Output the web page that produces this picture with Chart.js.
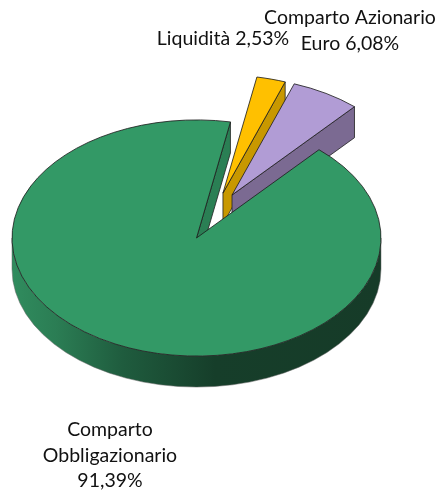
<!DOCTYPE html>
<html>
<head>
<meta charset="utf-8">
<style>
  html, body { margin: 0; padding: 0; background: #fff; }
  canvas { display: block; }
</style>
<script src="https://cdn.jsdelivr.net/npm/chart.js@4/dist/chart.umd.js"></script>
</head>
<body>
<canvas id="myChart" width="439" height="491"></canvas>
<script>
// Chart data
const categories = ['Liquidità', 'Comparto Azionario Euro', 'Comparto Obbligazionario'];
const values = [2.53, 6.08, 91.39];
const topColors = ['#ffc000', '#b19cd5', '#339966'];
const sideColors = ['#c89800', '#7b6a92', '#2a7f54'];

// Exploded slices: distance from the centre and small turn off the bisector
const explodeDistance = [75, 76, 0];
const explodeTurn = [5.5, -2.8, 0];

// Fake 3D settings
const squash = 0.64;
const depth = 31;
const firstAngle = 10.6;

// Label lines and where they go
const labelLines = [
    ['Liquidità ' + fmt(values[0]) + '%'],
    ['Comparto Azionario', 'Euro ' + fmt(values[1]) + '%'],
    ['Comparto', 'Obbligazionario', fmt(values[2]) + '%']
];
const labelAnchor = [[223, 45], [350, 24], [110, 436]];
const labelLineHeight = 25.5;

function fmt(v) {
    return v.toFixed(2).replace('.', ',');
}

// Centre of a slice after exploding it
function sliceCentre(arc, i) {
    const mid = (arc.startAngle + arc.endAngle) / 2 + explodeTurn[i] * Math.PI / 180;
    return {
        x: arc.x + Math.cos(mid) * explodeDistance[i],
        y: arc.y + Math.sin(mid) * explodeDistance[i]
    };
}

// Cut face at the end of the slice and the outer rim facing the viewer
function drawWalls(ctx, chart, arc, i, c) {
    const r = arc.outerRadius;
    const sy = arc.y + (c.y - arc.y) * squash;
    const ex = c.x + Math.cos(arc.endAngle) * r;
    const ey = sy + Math.sin(arc.endAngle) * r * squash;

    ctx.save();
    ctx.lineWidth = 0.8;
    ctx.strokeStyle = '#222';
    ctx.lineJoin = 'round';

    ctx.beginPath();
    ctx.moveTo(c.x, sy);
    ctx.lineTo(ex, ey);
    ctx.lineTo(ex, ey + depth);
    ctx.lineTo(c.x, sy + depth);
    ctx.closePath();
    ctx.fillStyle = sideColors[i];
    ctx.fill();
    ctx.stroke();

    // only the big slice reaches the front half of the ellipse
    if (arc.endAngle - arc.startAngle > Math.PI) {
        const g = ctx.createLinearGradient(c.x - r, 0, c.x + r, 0);
        g.addColorStop(0, '#308c5e');
        g.addColorStop(0.12, '#2b7d54');
        g.addColorStop(0.3, '#1f5c3e');
        g.addColorStop(0.55, '#163e2a');
        g.addColorStop(1, '#163b28');
        ctx.beginPath();
        ctx.ellipse(c.x, sy, r, r * squash, 0, 0, Math.PI);
        ctx.lineTo(c.x - r, sy + depth);
        ctx.ellipse(c.x, sy + depth, r, r * squash, 0, Math.PI, 0, true);
        ctx.closePath();
        ctx.fillStyle = g;
        ctx.fill();
        ctx.lineWidth = 0.5;
        ctx.strokeStyle = '#666';
        ctx.stroke();
    }
    ctx.restore();
}

// Draws the arcs through Chart.js itself, squashed, with their walls underneath
const pie3d = {
    id: 'pie3d',
    beforeDatasetDraw(chart, args) {
        const ctx = chart.ctx;
        const arcs = args.meta.data;
        arcs.forEach((arc, i) => {
            const c = sliceCentre(arc, i);
            drawWalls(ctx, chart, arc, i, c);
            ctx.save();
            ctx.translate(0, arc.y);
            ctx.scale(1, squash);
            ctx.translate(c.x - arc.x, c.y - arc.y - arc.y);
            arc.draw(ctx, chart.chartArea);
            ctx.restore();
        });
        return false;
    },
    afterDraw(chart) {
        const ctx = chart.ctx;
        ctx.save();
        ctx.font = '19.5px Lato';
        ctx.fillStyle = '#111';
        ctx.textAlign = 'center';
        ctx.textBaseline = 'alphabetic';
        labelLines.forEach((lines, i) => {
            lines.forEach((line, j) => {
                ctx.fillText(line, labelAnchor[i][0], labelAnchor[i][1] + j * labelLineHeight);
            });
        });
        ctx.restore();
    }
};

const chartConfig = {
    type: 'pie',
    data: {
        labels: categories,
        datasets: [{
            data: values,
            backgroundColor: topColors,
            borderColor: '#1c1c1c',
            borderWidth: 1,
            borderJoinStyle: 'round'
        }]
    },
    options: {
        responsive: false,
        animation: false,
        rotation: firstAngle,
        radius: 184.5,
        layout: { padding: { left: 0, top: 0, right: 46, bottom: 15 } },
        plugins: {
            legend: { display: false },
            tooltip: { enabled: false }
        }
    },
    plugins: [pie3d]
};

new Chart(document.getElementById('myChart').getContext('2d'), chartConfig);
</script>
</body>
</html>
